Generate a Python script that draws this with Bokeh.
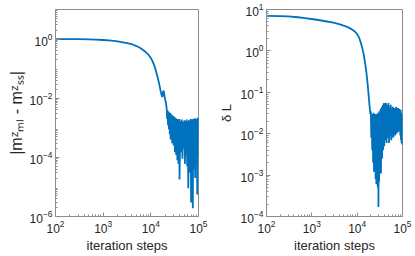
from bokeh.plotting import figure
from bokeh.layouts import row
from bokeh.models import FixedTicker, Range1d
from bokeh.embed import file_html
from bokeh.resources import INLINE

# ---------------- data ----------------
steps_m = [100, 200, 300, 500, 700, 1000, 1500, 2000, 3000, 4000, 5000, 6000, 7000,
           8000, 9000, 10000, 11000, 12000, 13000, 14000, 15000, 16000, 17000, 17400,
           18000, 18600, 19500, 20500, 21000,
           21500, 22000, 22500, 23000, 23500, 24000, 24500, 25000, 25500, 26000,
           26500, 27000, 27500, 28000, 28500, 29000, 29500, 30000, 30500, 31000,
           31500, 32000, 32500, 33000, 33500, 34000, 34500, 35000, 35500, 36000,
           36500, 37000, 37500, 38000, 38500, 39000, 39500, 40000,
           41500, 43000, 44500, 46000, 47500, 49000, 50500, 52000, 53500, 55000,
           56500, 58000, 59500, 61000, 62500, 64000, 65500, 67000, 68500, 70000,
           71500, 73000, 74500, 76000, 77500, 79000, 80500, 82000, 83500, 85000,
           86500, 88000, 89500, 91000, 92500, 94000, 95500, 97000, 98500, 100000]
dm = [1.0, 0.995, 0.99, 0.975, 0.96, 0.93, 0.88, 0.83, 0.75, 0.67, 0.58, 0.5, 0.42,
      0.35, 0.29, 0.23, 0.17, 0.12, 0.075, 0.048, 0.03, 0.018, 0.012, 0.011,
      0.016, 0.018, 0.011, 0.0075, 0.006,
      4.5e-3, 2.0e-3, 3.8e-3, 1.2e-3, 3.5e-3, 9e-4, 3.0e-3, 6e-4, 3.2e-3, 4e-4,
      2.6e-3, 7e-4, 2.8e-3, 3e-4, 2.2e-3, 5e-4, 2.5e-3, 2.5e-4, 2.0e-3, 4e-4,
      2.3e-3, 1.5e-4, 1.9e-3, 3e-4, 2.1e-3, 1.2e-4, 1.8e-3, 2.5e-4, 2.0e-3, 8e-5,
      1.7e-3, 2e-4, 1.9e-3, 6e-5, 1.8e-3, 1.5e-4, 2.0e-3, 1.8e-5,
      1.7e-3, 1.5e-4, 1.9e-3, 9e-5, 1.6e-3, 2e-4, 1.8e-3, 6e-5, 1.7e-3, 1.3e-4,
      1.9e-3, 5e-5, 1.6e-3, 9e-6, 1.8e-3, 1e-4, 1.7e-3, 3e-5, 2.0e-3, 3e-6,
      1.8e-3, 8e-5, 1.9e-3, 1.9e-6, 2.0e-3, 4e-5, 1.7e-3, 1.5e-4, 2.1e-3, 2e-5,
      1.8e-3, 1e-4, 2.0e-3, 6e-5, 1.9e-3, 5.5e-6, 2.2e-3, 1e-4, 2.0e-3, 5e-4]

steps_L = [100, 200, 300, 500, 700, 1000, 1500, 2000, 3000, 4000, 5000, 6000, 7000,
           8000, 9000, 10000, 11000, 12000, 13000, 14000, 15000, 16000, 17000, 18000,
           19000, 19500,
           20000, 20500, 21000, 21500, 22000, 22500, 23000, 23500, 24000, 24500,
           25000, 25500, 26000, 26500, 27000, 27500, 28000, 28500, 29000, 29500,
           30000, 30500, 31000, 31500, 32000, 32500, 33000, 33500, 34000, 34500,
           35000, 35500, 36000, 36500, 37000, 37500, 38000, 38500, 39000, 39500, 40000,
           41500, 43000, 44500, 46000, 47500, 49000, 50500, 52000, 53500, 55000,
           56500, 58000, 59500, 61000, 62500, 64000, 65500, 67000, 68500, 70000,
           71500, 73000, 74500, 76000, 77500, 79000, 80500, 82000, 83500, 85000,
           86500, 88000, 89500, 91000, 92500, 94000, 95500, 97000, 98500, 100000]
dL = [7.0, 6.9, 6.8, 6.5, 6.2, 5.9, 5.5, 5.2, 4.8, 4.45, 4.1, 3.8, 3.5,
      3.2, 2.9, 2.55, 2.1, 1.6, 1.15, 0.8, 0.5, 0.3, 0.16, 0.08,
      0.04, 0.03,
      0.035, 0.008, 0.03, 0.004, 0.028, 0.002, 0.032, 0.0012, 0.025, 0.003,
      0.03, 0.0008, 0.028, 0.0006, 0.03, 0.0011, 0.026, 0.0005, 0.032, 0.00017,
      0.028, 0.0007, 0.035, 0.0012, 0.03, 0.002, 0.04, 0.0011, 0.035, 0.003,
      0.045, 0.0025, 0.04, 0.005, 0.05, 0.004, 0.045, 0.006, 0.055, 0.005, 0.05,
      0.007, 0.056, 0.006, 0.05, 0.008, 0.055, 0.006, 0.045, 0.009, 0.05,
      0.007, 0.04, 0.01, 0.045, 0.008, 0.04, 0.011, 0.042, 0.009, 0.038,
      0.012, 0.045, 0.01, 0.04, 0.013, 0.042, 0.011, 0.038, 0.014, 0.04,
      0.012, 0.035, 0.009, 0.038, 0.007, 0.032, 0.006, 0.03, 0.0055, 0.025]

x_ticks = [1e2, 1e3, 1e4, 1e5]
ym_ticks = [1e-6, 1e-4, 1e-2, 1e0]
yL_ticks = [1e-4, 1e-3, 1e-2, 1e-1, 1e0, 1e1]
x_label = "iteration steps"
ym_label = "|mᶻₘₗ - mᶻₛₛ|"
yL_label = "δ L"

# ---------------- styling ----------------
LINE = "#0072BD"
AX = "#8c8c8c"
TXT = "#262626"
FONT = "Liberation Sans"


def minors(lo, hi):
    out = []
    for d in range(lo, hi):
        for k in range(2, 10):
            out.append(k * 10.0 ** d)
    return out


def style_axis(ax):
    ax.axis_line_color = AX
    ax.major_tick_line_color = AX
    ax.minor_tick_line_color = AX
    ax.major_tick_in = 4
    ax.major_tick_out = 0
    ax.minor_tick_in = 2
    ax.minor_tick_out = 0
    ax.major_label_text_font = FONT
    ax.major_label_text_color = TXT
    ax.major_label_text_font_size = "12px"
    ax.major_label_standoff = 3
    ax.axis_label_text_font = FONT
    ax.axis_label_text_color = TXT
    ax.axis_label_text_font_style = "normal"
    ax.axis_label_text_font_size = "13px"


def make(xs, ys, yr, yticks, ylo, yhi, ylabel, ylabel_size, ylabel_standoff, w, bl, br):
    p = figure(width=w, height=256,
               x_axis_type="log", y_axis_type="log",
               x_range=Range1d(1e2, 1e5), y_range=Range1d(*yr),
               output_backend="svg", toolbar_location=None,
               min_border_left=bl, min_border_right=br,
               min_border_top=9, min_border_bottom=40,
               background_fill_color="white", border_fill_color="white")
    p.grid.visible = False
    p.outline_line_color = AX
    p.xaxis.ticker = FixedTicker(ticks=x_ticks, minor_ticks=minors(2, 5))
    p.yaxis.ticker = FixedTicker(ticks=yticks, minor_ticks=minors(ylo, yhi))
    style_axis(p.xaxis[0])
    style_axis(p.yaxis[0])
    p.xaxis.axis_label = x_label
    p.xaxis.axis_label_standoff = 2
    p.yaxis.axis_label = ylabel
    p.yaxis.axis_label_standoff = ylabel_standoff
    p.yaxis.axis_label_text_font_size = ylabel_size
    p.line(xs, ys, line_color=LINE, line_width=1.8)
    return p


p1 = make(steps_m, dm, (1e-6, 1e1), ym_ticks, -6, 1, ym_label, "16px", 2, 208, 55, 10)
p2 = make(steps_L, dL, (1e-4, 1e1), yL_ticks, -4, 1, yL_label, "13px", 4, 207, 58, 13)

layout = row(p1, p2)
open("out.html", "w").write(file_html(layout, INLINE))
